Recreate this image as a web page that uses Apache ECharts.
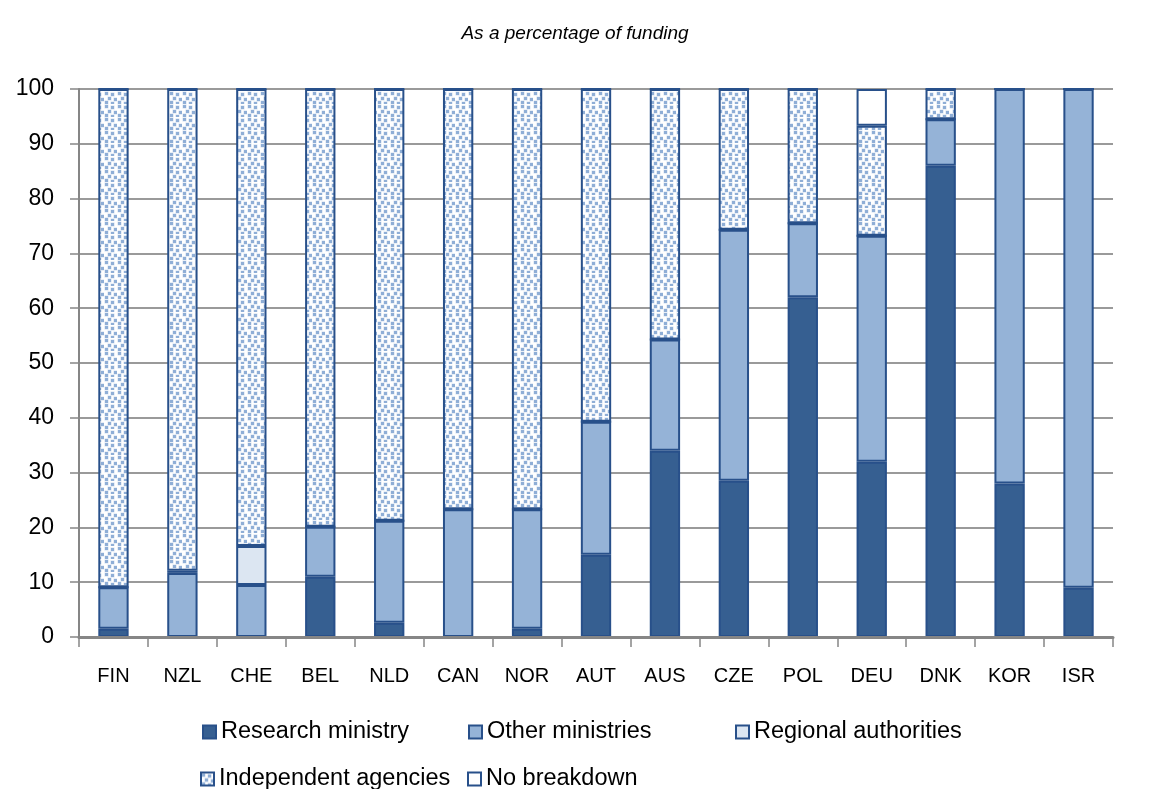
<!DOCTYPE html>
<html>
<head>
<meta charset="utf-8">
<script src="https://cdn.jsdelivr.net/npm/echarts@6/dist/echarts.min.js"></script>
<style>
  html, body { margin: 0; padding: 0; background: #fff; }
  #chart { width: 1150px; height: 789px; }
</style>
</head>
<body>
<div id="chart"></div>
<script>
const countries = ['FIN', 'NZL', 'CHE', 'BEL', 'NLD', 'CAN', 'NOR', 'AUT', 'AUS', 'CZE', 'POL', 'DEU', 'DNK', 'KOR', 'ISR']

// shares of funding
const researchMinistry = [1.5, 0, 0, 11, 2.6, 0, 1.5, 15, 34, 28.5, 62, 32, 86, 28, 9]
const otherMinistries = [7.6, 11.7, 9.5, 9.1, 18.6, 23.3, 21.8, 24.3, 20.3, 45.8, 13.5, 41.2, 8.5, 72, 91]
const regionalAuthorities = [0, 0.4, 7.1, 0, 0, 0, 0, 0, 0, 0, 0, 0, 0, 0, 0]
const independentAgencies = [90.9, 87.9, 83.4, 79.9, 78.8, 76.7, 76.7, 60.7, 45.7, 25.7, 24.5, 20.1, 5.5, 0, 0]
const noBreakdown = [0, 0, 0, 0, 0, 0, 0, 0, 0, 0, 0, 6.7, 0, 0, 0]

const yTicks = [0, 10, 20, 30, 40, 50, 60, 70, 80, 90, 100]

// dotted fill for independent agencies
function dotPattern () {
  const c = document.createElement('canvas')
  c.width = 13
  c.height = 13
  const ctx = c.getContext('2d')
  ctx.fillStyle = '#fff'
  ctx.fillRect(0, 0, 13, 13)
  const dots = [[1, 1], [7, 2], [4, 6], [10, 7], [1, 10], [7, 11]]
  // soft edge then solid core, like the blurry dots in the original
  ctx.fillStyle = '#D3E0F0'
  dots.forEach(d => ctx.fillRect(d[0] - 0.5, d[1] - 0.5, 4, 4))
  ctx.fillStyle = '#8FAED6'
  dots.forEach(d => ctx.fillRect(d[0], d[1], 3, 3))
  return c
}

const border = '#28508A'
const font = 'Liberation Sans'

function bar (name, data, color) {
  return {
    name: name,
    type: 'bar',
    stack: 'total',
    barWidth: '44%',
    data: data,
    itemStyle: { color: color, borderColor: border, borderWidth: 2 }
  }
}

function legendItem (name, left, top) {
  return {
    data: [name],
    left: left,
    top: top,
    padding: 0,
    icon: 'rect',
    itemWidth: 13,
    itemHeight: 13,
    selectedMode: false,
    textStyle: { fontFamily: font, fontSize: 23.5, color: '#000' }
  }
}

const chart = echarts.init(document.getElementById('chart'))

chart.setOption({
  animation: false,
  title: {
    text: 'As a percentage of funding',
    left: 'center',
    top: 19,
    textStyle: { fontFamily: font, fontSize: 19, fontStyle: 'italic', fontWeight: 'normal', color: '#000' }
  },
  grid: { left: 79, right: 37, top: 89, bottom: 152 },
  legend: [
    legendItem('Research ministry', 202, 720),
    legendItem('Other ministries', 468, 720),
    legendItem('Regional authorities', 735, 720),
    legendItem('Independent agencies', 200, 767),
    legendItem('No breakdown', 467, 767)
  ],
  xAxis: {
    type: 'category',
    data: countries,
    z: 5,
    axisLine: { lineStyle: { color: '#868686', width: 3 } },
    axisTick: { show: true, length: 10, lineStyle: { color: '#868686', width: 1.5 } },
    axisLabel: { fontFamily: font, fontSize: 20, color: '#000', margin: 29 }
  },
  yAxis: {
    type: 'value',
    min: yTicks[0],
    max: yTicks[yTicks.length - 1],
    interval: 10,
    axisLine: { show: true, lineStyle: { color: '#868686', width: 2 } },
    axisTick: { show: true, length: 9, lineStyle: { color: '#868686', width: 1.5 } },
    splitLine: { lineStyle: { color: '#9a9a9a', width: 2 } },
    axisLabel: { fontFamily: font, fontSize: 23, color: '#000', margin: 25 }
  },
  series: [
    bar('Research ministry', researchMinistry, '#365F91'),
    bar('Other ministries', otherMinistries, '#95B3D7'),
    bar('Regional authorities', regionalAuthorities, '#DCE6F2'),
    bar('Independent agencies', independentAgencies, { image: dotPattern(), repeat: 'repeat' }),
    bar('No breakdown', noBreakdown, '#fff')
  ]
})
</script>
</body>
</html>
